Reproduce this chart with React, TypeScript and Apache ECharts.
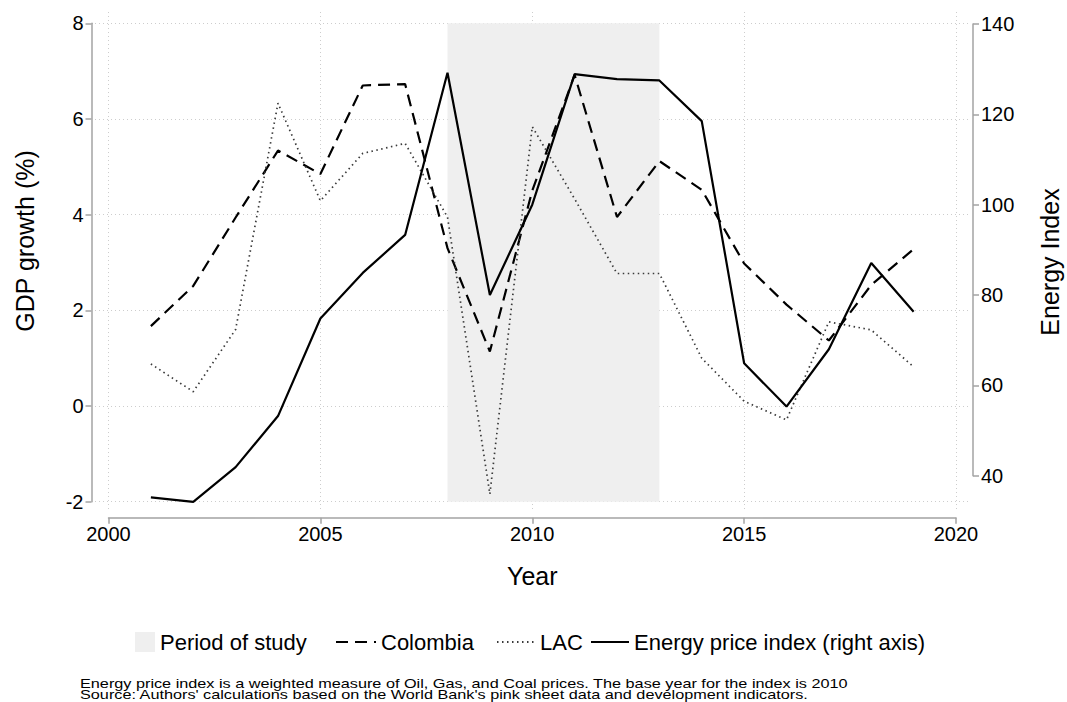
import React, { useEffect, useRef } from "react";
import * as echarts from "echarts";

const years = [2001, 2002, 2003, 2004, 2005, 2006, 2007, 2008, 2009, 2010, 2011, 2012, 2013, 2014, 2015, 2016, 2017, 2018, 2019];
const colombia = [1.67, 2.51, 3.94, 5.34, 4.85, 6.7, 6.73, 3.3, 1.14, 4.5, 6.92, 3.95, 5.12, 4.52, 2.98, 2.12, 1.37, 2.53, 3.28];
const lac = [0.88, 0.3, 1.6, 6.33, 4.29, 5.28, 5.49, 3.95, -1.84, 5.84, 4.33, 2.77, 2.77, 1.0, 0.1, -0.29, 1.76, 1.59, 0.82];
const energy = [35.2, 34.2, 41.9, 53.2, 74.8, 84.9, 93.3, 129.2, 80.0, 100.0, 128.9, 127.8, 127.5, 118.5, 64.9, 55.3, 68.0, 87.1, 76.3];
const studyPeriod = [2008, 2013];
const xTicks = { min: 2000, max: 2020, step: 5 };
const gdpTicks = { min: -2, max: 8, step: 2 };
const energyTicks = { min: 40, max: 140, step: 20 };
const notes = [
  "Energy price index is a weighted measure of Oil, Gas, and Coal prices. The base year for the index is 2010",
  "Source: Authors' calculations based on the World Bank's pink sheet data and development indicators.",
];

export default function App() {
  const ref = useRef<HTMLDivElement>(null);
  useEffect(() => {
    const chart = echarts.init(ref.current!, null, { renderer: "svg" });
    const font = "'Liberation Sans', Arial, sans-serif";
    const axisGray = "#a3a3a3";
    const gridGray = "#cdcdcd";
    const L = 108.5, R = 1067 - 956, T = 23.3, B = 702 - 501.7;
    const pairs = (vals: number[]) => years.map((y, i) => [y, vals[i]]);
    const hiddenAxis = { show: true, axisLine: { show: false }, axisTick: { show: false }, axisLabel: { show: false }, splitLine: { show: false } };
    const legendText = { fontSize: 22, fontFamily: font, color: "#000" };
    const option: any = {
      animation: false,
      textStyle: { fontFamily: font, color: "#000" },
      grid: [
        { left: L, right: R, top: T, bottom: B },
        { left: L, right: R, top: 12, bottom: 702 - 512 },
        { left: 95, right: 1067 - 970, top: T, bottom: B },
        { left: L, right: R, top: 24, bottom: 702 - 475.7 },
      ],
      xAxis: [
        {
          gridIndex: 0, type: "value", min: xTicks.min, max: xTicks.max, interval: xTicks.step, offset: 16,
          axisLine: { show: true, onZero: false, lineStyle: { color: axisGray, width: 1.5 } },
          axisTick: { show: true, length: 6, lineStyle: { color: axisGray, width: 1.5 } },
          axisLabel: { fontSize: 20, color: "#000", margin: 6, fontFamily: font, formatter: (v: number) => String(v) },
          splitLine: { show: false },
          name: "Year", nameLocation: "middle", nameGap: 46,
          nameTextStyle: { fontSize: 25, color: "#000", fontFamily: font },
        },
        {
          gridIndex: 1, type: "value", min: xTicks.min, max: xTicks.max, interval: xTicks.step,
          ...hiddenAxis,
          splitLine: { show: true, lineStyle: { color: gridGray, type: [1, 3], width: 1 } },
        },
        { gridIndex: 2, type: "value", min: 0, max: 1, ...hiddenAxis },
        { gridIndex: 3, type: "value", min: xTicks.min, max: xTicks.max, ...hiddenAxis },
      ],
      yAxis: [
        {
          gridIndex: 0, type: "value", position: "left", min: gdpTicks.min, max: gdpTicks.max, interval: gdpTicks.step, offset: 17,
          axisLine: { show: true, onZero: false, lineStyle: { color: axisGray, width: 1.5 } },
          axisTick: { show: true, length: 6, lineStyle: { color: axisGray, width: 1.5 } },
          axisLabel: { fontSize: 20, color: "#000", margin: 8, fontFamily: font },
          splitLine: { show: false },
        },
        { gridIndex: 1, type: "value", min: 0, max: 1, ...hiddenAxis },
        {
          gridIndex: 2, type: "value", min: gdpTicks.min, max: gdpTicks.max, interval: gdpTicks.step,
          ...hiddenAxis,
          splitLine: { show: true, lineStyle: { color: gridGray, type: [1, 3], width: 1 } },
        },
        {
          gridIndex: 3, type: "value", position: "right", min: energyTicks.min, max: energyTicks.max, interval: energyTicks.step, offset: 17,
          axisLine: { show: true, onZero: false, lineStyle: { color: axisGray, width: 1.5 } },
          axisTick: { show: true, length: 6, lineStyle: { color: axisGray, width: 1.5 } },
          axisLabel: { fontSize: 20, color: "#000", margin: 8, fontFamily: font },
          splitLine: { show: false },
        },
      ],
      legend: [
        { data: [{ name: "Period of study", icon: "rect" }], left: 130, top: 626, itemWidth: 20, itemHeight: 20, itemGap: 10, textStyle: legendText },
        { data: ["Colombia"], left: 330, top: 626, itemWidth: 40, itemHeight: 20, itemStyle: { opacity: 0 }, textStyle: legendText },
        { data: ["LAC"], left: 491, top: 626, itemWidth: 38, itemHeight: 20, itemStyle: { opacity: 0 }, textStyle: legendText },
        { data: ["Energy price index (right axis)"], left: 585, top: 626, itemWidth: 38, itemHeight: 20, itemStyle: { opacity: 0 }, textStyle: legendText },
      ],
      series: [
        {
          name: "Period of study", type: "line", xAxisIndex: 0, yAxisIndex: 0, data: [],
          itemStyle: { color: "#efefef" }, lineStyle: { color: "#efefef" }, symbol: "rect",
        },
        {
          name: "Colombia", type: "line", xAxisIndex: 0, yAxisIndex: 0, data: pairs(colombia),
          symbol: "none", z: 3,
          lineStyle: { color: "#000", width: 2.2, type: [12, 7] },
          itemStyle: { color: "#000" },
          markArea: {
            silent: true, z: 1,
            itemStyle: { color: "#efefef" },
            data: [[{ xAxis: studyPeriod[0], yAxis: gdpTicks.min }, { xAxis: studyPeriod[1], yAxis: gdpTicks.max }]],
          },
        },
        {
          name: "LAC", type: "line", xAxisIndex: 0, yAxisIndex: 0, data: pairs(lac),
          symbol: "none", z: 3,
          lineStyle: { color: "#3a3a3a", width: 1.7, type: [1.5, 3.5] },
          itemStyle: { color: "#3a3a3a" },
        },
        {
          name: "Energy price index (right axis)", type: "line", xAxisIndex: 3, yAxisIndex: 3, data: pairs(energy),
          symbol: "none", clip: false, z: 4,
          lineStyle: { color: "#000", width: 2.2 },
          itemStyle: { color: "#000" },
        },
      ],
      graphic: [
        { type: "text", x: 25, y: 241, rotation: Math.PI / 2, style: { text: "GDP growth (%)", font: `25px ${font}`, fill: "#000", textAlign: "center", textVerticalAlign: "middle" } },
        { type: "text", x: 1050, y: 262, rotation: Math.PI / 2, style: { text: "Energy Index", font: `25px ${font}`, fill: "#000", textAlign: "center", textVerticalAlign: "middle" } },
        { type: "text", x: 80, y: 683.5, scaleX: 1.355, style: { text: notes[0], font: `12px ${font}`, fill: "#000", textVerticalAlign: "middle" } },
        { type: "text", x: 80, y: 694.5, scaleX: 1.355, style: { text: notes[1], font: `12px ${font}`, fill: "#000", textVerticalAlign: "middle" } },
      ],
    };
    chart.setOption(option);
    return () => chart.dispose();
  }, []);
  return <div ref={ref} style={{ position: "absolute", left: 0, top: 0, width: 1067, height: 702, background: "#fff" }} />;
}
